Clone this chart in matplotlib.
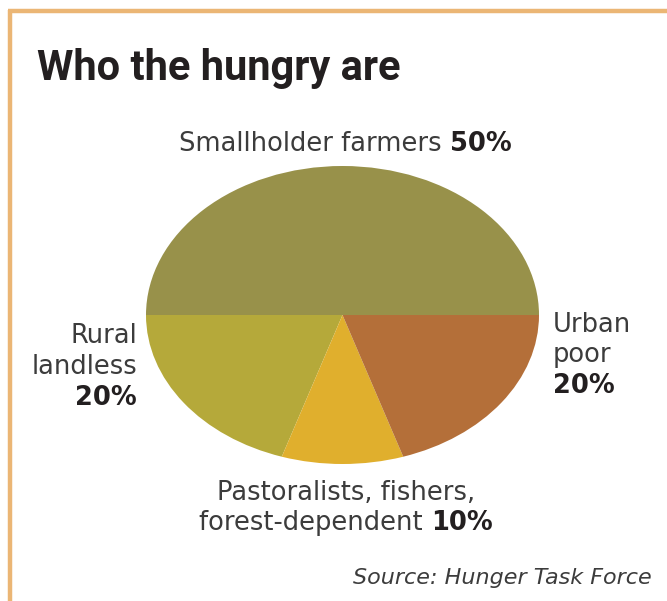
import matplotlib.pyplot as plt
from matplotlib.lines import Line2D

W, H = 667, 601

# datos
grupos = ['Smallholder farmers', 'Rural landless', 'Pastoralists, fishers, forest-dependent', 'Urban poor']
porcentajes = [50, 20, 10, 20]
colores = ['#98914a', '#b5a93a', '#e0af2d', '#b46f39']

plt.rcParams['font.family'] = ['DejaVu Sans']
gris = '#3c3c3c'
negro = '#231f20'
tam = 18.5

fig = plt.figure(figsize=(W / 100, H / 100), dpi=100)
fig.patch.set_facecolor('white')

# borde naranja arriba e izquierda
borde = '#ebb675'
fig.add_artist(Line2D([8 / W, 1], [1 - 11 / H, 1 - 11 / H], color=borde, lw=3.2, solid_capstyle='butt'))
fig.add_artist(Line2D([10 / W, 10 / W], [0, 1 - 9.5 / H], color=borde, lw=3.2, solid_capstyle='butt'))

# pastel eliptico (circulo aplastado)
ax = fig.add_axes([146 / W, 1 - 464 / H, 393 / W, 298 / H])
ax.pie(porcentajes, colors=colores, startangle=0, counterclock=True,
       wedgeprops={'linewidth': 0})
ax.set_aspect('auto')
ax.set_xlim(-1, 1)
ax.set_ylim(-1, 1)
ax.axis('off')

fig.text(37 / W, 1 - 80 / H, 'Who the hungry are', fontsize=30, fontweight='bold',
         family=['Roboto', 'DejaVu Sans'],
         color=negro, ha='left', va='baseline')

r = fig.canvas.get_renderer()


def linea_mixta(xc, y, normal, negrita, size=tam):
    t1 = fig.text(0, 1 - y / H, normal, fontsize=size, color=gris, va='baseline')
    t2 = fig.text(0, 1 - y / H, negrita, fontsize=size, color=negro, fontweight='bold', va='baseline')
    w1 = t1.get_window_extent(r).width
    w2 = t2.get_window_extent(r).width
    x0 = xc - (w1 + w2) / 2
    t1.set_x(x0 / W)
    t2.set_x((x0 + w1) / W)


linea_mixta(345, 151, 'Smallholder farmers ', f'{porcentajes[0]}%')

# Urban poor
fig.text(553 / W, 1 - 332 / H, 'Urban', fontsize=tam, color=gris, va='baseline')
fig.text(553 / W, 1 - 362 / H, 'poor', fontsize=tam, color=gris, va='baseline')
fig.text(553 / W, 1 - 393 / H, f'{porcentajes[3]}%', fontsize=tam, color=negro,
         fontweight='bold', va='baseline')

# Rural landless
fig.text(137 / W, 1 - 343 / H, 'Rural', fontsize=tam, color=gris, va='baseline', ha='right')
fig.text(137 / W, 1 - 374 / H, 'landless', fontsize=tam, color=gris, va='baseline', ha='right')
fig.text(137 / W, 1 - 405 / H, f'{porcentajes[1]}%', fontsize=tam, color=negro,
         fontweight='bold', va='baseline', ha='right')

# Pastoralists
fig.text(346 / W, 1 - 500 / H, 'Pastoralists, fishers,', fontsize=tam, color=gris,
         va='baseline', ha='center')
linea_mixta(346, 530, 'forest-dependent ', f'{porcentajes[2]}%')

fig.text(652 / W, 1 - 584 / H, 'Source: Hunger Task Force', fontsize=16, color=gris,
         style='italic', va='baseline', ha='right')

plt.savefig('out.png', dpi=100)
